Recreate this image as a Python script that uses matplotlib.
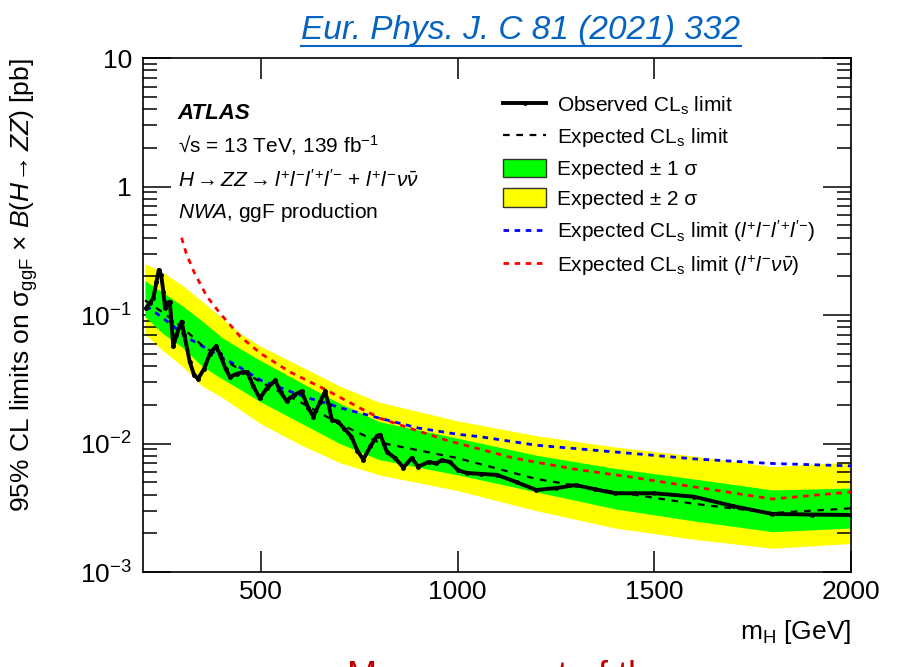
import math

import matplotlib
matplotlib.use('Agg')
import matplotlib.pyplot as plt
from matplotlib.lines import Line2D
from matplotlib.patches import Patch
from matplotlib.ticker import FixedLocator, FuncFormatter, LogLocator, NullLocator

plt.rcParams['font.family'] = ['Liberation Sans', 'DejaVu Sans']
plt.rcParams['mathtext.fontset'] = 'custom'
plt.rcParams['mathtext.rm'] = 'Liberation Sans'
plt.rcParams['mathtext.it'] = 'Liberation Sans:italic'
plt.rcParams['mathtext.bf'] = 'Liberation Sans:bold'
plt.rcParams['mathtext.sf'] = 'Liberation Sans'

# expected limits and bands [pb]
mass_exp = [205, 250, 300, 350, 400, 450, 500, 600, 700, 800, 1000, 1200, 1400, 1600, 1800, 2000]
expected = [0.13, 0.105, 0.08, 0.058, 0.046, 0.037, 0.030, 0.021, 0.0142, 0.0102, 0.0077,
            0.0053, 0.0042, 0.0034, 0.00288, 0.00313]
band2_hi = [0.25, 0.215, 0.17, 0.128, 0.095, 0.071, 0.057, 0.040, 0.028, 0.021, 0.0150,
            0.0115, 0.0094, 0.0080, 0.0066, 0.0072]
band1_hi = [0.185, 0.15, 0.118, 0.09, 0.067, 0.054, 0.044, 0.030, 0.0205, 0.0148, 0.0110,
            0.0081, 0.0064, 0.0053, 0.00435, 0.0045]
band1_lo = [0.097, 0.072, 0.056, 0.040, 0.032, 0.026, 0.021, 0.0145, 0.0100, 0.0075, 0.0057,
            0.0042, 0.0031, 0.0025, 0.00206, 0.0022]
band2_lo = [0.071, 0.053, 0.040, 0.028, 0.023, 0.018, 0.0142, 0.0098, 0.0071, 0.0057, 0.0043,
            0.0030, 0.0022, 0.0018, 0.00153, 0.00167]

# observed limit
mass_obs = [208, 218, 226, 234, 240, 246, 252, 256, 262, 268, 272, 277, 285, 298, 305, 319,
            330, 340, 355, 370, 385, 395, 410, 421, 440, 455, 465, 480, 497, 515, 536, 550,
            565, 585, 603, 620, 633, 650, 663, 672, 680, 696, 712, 730, 745, 760, 778, 795,
            803, 812, 820, 841, 862, 883, 900, 926, 946, 959, 980, 1001, 1023, 1060, 1100,
            1150, 1200, 1250, 1300, 1350, 1400, 1450, 1500, 1600, 1700, 1800, 1900, 2000]
observed = [0.113, 0.125, 0.135, 0.18, 0.224, 0.205, 0.15, 0.113, 0.125, 0.127, 0.09, 0.057,
            0.07, 0.089, 0.07, 0.043, 0.034, 0.032, 0.038, 0.05, 0.057, 0.05, 0.038, 0.033,
            0.035, 0.036, 0.036, 0.028, 0.0225, 0.027, 0.031, 0.025, 0.0215, 0.024, 0.0255,
            0.019, 0.0162, 0.021, 0.0255, 0.02, 0.0152, 0.0148, 0.013, 0.0113, 0.0088, 0.0075,
            0.0095, 0.0115, 0.0117, 0.0100, 0.0086, 0.0077, 0.0065, 0.0077, 0.0066, 0.0072,
            0.0070, 0.0074, 0.0072, 0.0062, 0.0059, 0.0058, 0.0057, 0.0050, 0.00435, 0.0045,
            0.00475, 0.0044, 0.0041, 0.0041, 0.0041, 0.00386, 0.00326, 0.00283, 0.0028, 0.00278]

# expected per channel
mass_4l = [208, 250, 300, 319, 400, 447, 500, 616, 667, 700, 803, 900, 1000, 1057, 1200,
           1438, 1600, 1794, 2000]
exp_4l = [0.118, 0.095, 0.072, 0.065, 0.047, 0.039, 0.031, 0.0228, 0.0206, 0.019, 0.0157,
          0.0132, 0.0118, 0.0113, 0.0097, 0.0084, 0.0076, 0.0070, 0.0067]
mass_2l2v = [298, 310, 330, 362, 396, 447, 500, 574, 667, 750, 803, 900, 972, 1142, 1300,
             1438, 1600, 1800, 2000]
exp_2l2v = [0.40, 0.30, 0.215, 0.14, 0.103, 0.068, 0.05, 0.036, 0.026, 0.019, 0.0157, 0.0125,
            0.0106, 0.0077, 0.0063, 0.0055, 0.0046, 0.0037, 0.0042]

fig = plt.figure(figsize=(9.03, 6.67), dpi=100)
ax = fig.add_axes([0.1584, 0.1424, 0.784, 0.7706])

ax.fill_between(mass_exp, band2_lo, band2_hi, color='#ffff00', lw=0, zorder=1)
ax.fill_between(mass_exp, band1_lo, band1_hi, color='#00ff00', lw=0, zorder=2)
ax.plot(mass_4l, exp_4l, color='#0000ff', lw=2, ls=(0, (2, 2)), zorder=3)
ax.plot(mass_2l2v, exp_2l2v, color='#ff0000', lw=2, ls=(0, (2, 2)), zorder=3)
ax.plot(mass_exp, expected, color='black', lw=1.6, ls=(0, (3, 3)), zorder=4)
ax.plot(mass_obs, observed, color='black', lw=2.8, marker='o', ms=2.5, zorder=5)

ax.set_yscale('log')
ax.set_xlim(200, 2000)
ax.set_ylim(1e-3, 10)

ax.xaxis.set_major_locator(FixedLocator([500, 1000, 1500, 2000]))
ax.xaxis.set_minor_locator(NullLocator())
ax.yaxis.set_major_locator(LogLocator(base=10, numticks=10))
ax.yaxis.set_minor_locator(LogLocator(base=10, subs=range(2, 10), numticks=20))


def ylab(v, pos):
    if v >= 1:
        return f'{v:g}'
    e = int(round(math.log10(v)))
    return rf'$10^{{{e}}}$'


ax.yaxis.set_major_formatter(FuncFormatter(ylab))
ax.tick_params(which='both', direction='in', top=True, right=True, labelsize=19, width=1.1)
ax.tick_params(axis='y', which='major', length=20, pad=8)
ax.tick_params(axis='y', which='minor', length=10)
ax.tick_params(axis='x', which='major', length=15, pad=6)
for s in ax.spines.values():
    s.set_linewidth(1.2)

ax.set_ylabel(r'95% CL limits on σ$_{\mathrm{ggF}}$ × $B(H\!\rightarrow ZZ)$ [pb]',
              fontsize=19, ha='right')
ax.yaxis.set_label_coords(-0.145, 1.0)
ax.set_xlabel(r'm$_{\mathrm{H}}$ [GeV]', fontsize=19, ha='right')
ax.xaxis.set_label_coords(1.0, -0.09)

# analysis labels
ax.text(0.049, 0.893, 'ATLAS', transform=ax.transAxes, fontsize=16, fontweight='bold',
        style='italic', va='center')
ax.text(0.049, 0.831, r'√s = 13 TeV, 139 fb$^{-1}$', transform=ax.transAxes,
        fontsize=15, va='center')
ax.text(0.049, 0.763, r"$H \rightarrow ZZ \rightarrow l^{+}l^{-}l'^{+}l'^{-}$ + $l^{+}l^{-}\nu\bar{\nu}$",
        transform=ax.transAxes, fontsize=15, va='center')
ax.text(0.049, 0.700, r'$NWA$, ggF production', transform=ax.transAxes, fontsize=15,
        va='center')

handles = [
    Line2D([], [], color='black', lw=2.8, marker='o', ms=2.5),
    Line2D([], [], color='black', lw=1.6, ls=(0, (3, 3))),
    Patch(facecolor='#00ff00', edgecolor='#333333', lw=1),
    Patch(facecolor='#ffff00', edgecolor='#333333', lw=1),
    Line2D([], [], color='#0000ff', lw=2, ls=(0, (2, 2))),
    Line2D([], [], color='#ff0000', lw=2, ls=(0, (2, 2))),
]
labels = [
    r'Observed CL$_{\mathrm{s}}$ limit',
    r'Expected CL$_{\mathrm{s}}$ limit',
    'Expected ± 1 σ',
    'Expected ± 2 σ',
    r"Expected CL$_{\mathrm{s}}$ limit ($l^{+}l^{-}l'^{+}l'^{-}$)",
    r'Expected CL$_{\mathrm{s}}$ limit ($l^{+}l^{-}\nu\bar{\nu}$)',
]
ax.legend(handles, labels, loc='upper left', bbox_to_anchor=(0.508, 0.929), frameon=False,
          fontsize=15, borderpad=0, borderaxespad=0, handlelength=2.1, handleheight=1.0,
          handletextpad=0.5, labelspacing=0.45)

# journal reference above the frame
ref = fig.text(0.577, 0.955, 'Eur. Phys. J. C 81 (2021) 332', fontsize=24, style='italic',
               color='#0563c1', ha='center', va='center')
fig.canvas.draw()
bb = ref.get_window_extent().transformed(fig.transFigure.inverted())
fig.add_artist(Line2D([bb.x0, bb.x1], [bb.y0 - 0.001, bb.y0 - 0.001], color='#0563c1', lw=1.5))

# slide caption running off the bottom edge
fig.text(0.384, -0.030, 'Measurement of the', fontsize=26, color='#c00000', va='baseline')

fig.savefig('out.png', dpi=100)
